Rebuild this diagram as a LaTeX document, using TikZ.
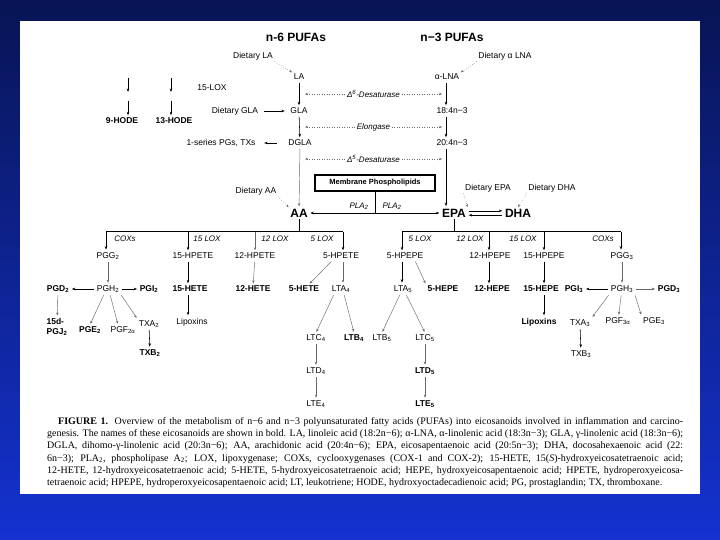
\documentclass[tikz,border=0pt]{standalone}
\usepackage{fontspec}
\setmainfont{Liberation Sans}
\newfontfamily\capfont{Liberation Serif}
\usepackage{tikz}
\usetikzlibrary{positioning, arrows.meta}
\definecolor{SlideTop}{RGB}{8,20,84}
\definecolor{SlideBot}{RGB}{20,50,208}
\definecolor{LineGray}{RGB}{105,105,105}

\begin{document}
\begin{tikzpicture}[x=1pt, y=-1pt,
    lbl/.style={inner sep=1.5pt, font=\fontsize{8.5}{10}\selectfont},
    bld/.style={inner sep=1.5pt, font=\fontsize{8.5}{10}\selectfont\bfseries},
    big/.style={inner sep=1.5pt, font=\fontsize{12}{14}\selectfont\bfseries},
    enz/.style={inner sep=1pt, font=\fontsize{8}{10}\selectfont\itshape},
    arr/.style={-{Stealth[length=3.5pt, width=2.6pt]}, draw=black, line width=0.55pt,
                shorten >=1pt, shorten <=1pt},
    farr/.style={-{Stealth[length=3pt, width=2.4pt]}, draw=LineGray, line width=0.45pt,
                 shorten >=1pt, shorten <=1pt},
    dotarr/.style={{Stealth[length=3pt, width=2.4pt]}-{Stealth[length=3pt, width=2.4pt]},
                   draw=LineGray, dotted, line width=0.5pt},
    diet/.style={-{Stealth[length=3pt, width=2.4pt]}, draw=LineGray, dotted, line width=0.5pt},
    br/.style={draw=black, line width=0.5pt}
  ]
  % slide
  \shade[top color=SlideTop, bottom color=SlideBot] (0,0) rectangle (720,540);
  \fill[white] (20,21) rectangle (700,494);
  \useasboundingbox (0,0) rectangle (720,540);

  % Titles
  \node[big] (ttl6) at (296,37) {n-6 PUFAs};
  \node[big] (ttl3) at (452,37) {n−3 PUFAs};

  % n-6 chain
  \node[lbl] (dla)  at (253,56)  {Dietary LA};
  \node[lbl] (la)   at (299,77)  {LA};
  \node[lbl] (dgl)  at (235,111) {Dietary GLA};
  \node[lbl] (gla)  at (299,111) {GLA};
  \node[lbl] (ser1) at (221,143) {1-series PGs, TXs};
  \node[lbl] (dgla) at (300,143) {DGLA};
  \node[lbl] (daa)  at (256,191) {Dietary AA};
  \node[big] (aa)   at (299,213) {AA};

  % n-3 chain
  \node[lbl] (daln) at (505,56)  {Dietary α LNA};
  \node[lbl] (aln)  at (447,77)  {α-LNA};
  \node[lbl] (c184) at (452,111) {18:4n−3};
  \node[lbl] (c204) at (452,143) {20:4n−3};
  \node[lbl] (depa) at (488,188) {Dietary EPA};
  \node[lbl] (ddha) at (552,188) {Dietary DHA};
  \node[big] (epa)  at (454,213) {EPA};
  \node[big] (dha)  at (518,213) {DHA};
  \coordinate (ncol) at (446,0);

  % Membrane
  \node[draw, line width=1.1pt, minimum width=120pt, minimum height=16pt, inner sep=1pt,
        font=\fontsize{7.5}{9}\selectfont\bfseries] (mem) at (375,183) {Membrane Phospholipids};
  \coordinate (pla) at (mem.south |- aa);
  \node[enz] (pl6) at (359,206) {PLA\textsubscript{2}};
  \node[enz] (pl3) at (392,206) {PLA\textsubscript{2}};

  % HODE
  \node[bld] (hode9)  at (122,121) {9-HODE};
  \node[bld] (hode13) at (174,121) {13-HODE};
  \node[lbl] (lox15)  at (212,88)  {15-LOX};
  \coordinate (h9t) at (128,77);  \coordinate (h9m) at (128,93);  \coordinate (h9n) at (128,100);
  \coordinate (h13t) at (171,77); \coordinate (h13m) at (171,93); \coordinate (h13n) at (171,100);

  % desaturase / elongase
  \coordinate (d6l) at (305,94);  \coordinate (d6r) at (442,94);
  \coordinate (ell) at (305,127); \coordinate (elr) at (442,127);
  \coordinate (d5l) at (305,159); \coordinate (d5r) at (442,159);

  \draw[diet] (dla.south east) -- (la.north west);
  \draw[arr] (la) -- (gla);
  \draw[arr] (gla) -- (dgla);
  \draw[arr, shorten <=4pt, shorten >=4pt] (dgl) -- (gla);
  \draw[arr, shorten <=10pt, shorten >=7pt] (dgla) -- (ser1);
  \draw[farr] (dgla) -- (aa);
  \draw[diet] (daa.south east) -- (aa.north west);
  \draw[diet] (daln.south west) -- (aln.north east);
  \draw[arr] (aln.south -| ncol) -- (c184.north -| ncol);
  \draw[arr] (c184.south -| ncol) -- (c204.north -| ncol);
  \draw[arr] (c204.south -| ncol) -- (epa.north -| ncol);
  \draw[diet] (depa.south west) -- (epa.north east);
  \draw[diet] (ddha.south west) -- (dha.north);
  \draw[line width=0.7pt] (mem.south) -- (pla);
  \draw[arr, {Stealth[length=3.5pt, width=2.6pt]}-{Stealth[length=3.5pt, width=2.6pt]}] (aa.east) -- (epa.west);
  \draw[arr] ([yshift=2.2pt]epa.east) -- ([yshift=2.2pt]dha.west);
  \draw[arr] ([yshift=-2.2pt]dha.west) -- ([yshift=-2.2pt]epa.east);

  \draw[dotarr] (d6l) -- (d6r) node[enz, fill=white, midway] {Δ\textsuperscript{6}-Desaturase};
  \draw[dotarr] (ell) -- (elr) node[enz, fill=white, midway] {Elongase};
  \draw[dotarr] (d5l) -- (d5r) node[enz, fill=white, midway] {Δ\textsuperscript{5}-Desaturase};

  \draw[arr] (h9t) -- (h9m);
  \draw[arr] (h9n) -- (h9n |- hode9.north);
  \draw[arr] (h13t) -- (h13m);
  \draw[arr] (h13n) -- (h13n |- hode13.north);

  % AA branch
  \coordinate (brl) at (106,231); \coordinate (b15) at (188,231);
  \coordinate (b12) at (255,231); \coordinate (brr) at (343,231);
  \node[enz] (coxl)  at (125,239) {COXs};
  \node[enz] (lox15l) at (207,239) {15 LOX};
  \node[enz] (lox12l) at (275,239) {12 LOX};
  \node[enz] (lox5l)  at (322,239) {5 LOX};

  \node[lbl] (pgg2)    at (108,256) {PGG\textsubscript{2}};
  \node[lbl] (hpete15) at (193,256) {15-HPETE};
  \node[lbl] (hpete12) at (255,256) {12-HPETE};
  \node[lbl] (hpete5)  at (341,256) {5-HPETE};

  \node[bld] (pgd2)   at (58,289)  {PGD\textsubscript{2}};
  \node[lbl] (pgh2)   at (108,289) {PGH\textsubscript{2}};
  \node[bld] (pgi2)   at (149,289) {PGI\textsubscript{2}};
  \node[bld] (hete15) at (190,289) {15-HETE};
  \node[bld] (hete12) at (253,289) {12-HETE};
  \node[bld] (hete5)  at (304,289) {5-HETE};
  \node[lbl] (lta4)   at (341,289) {LTA\textsubscript{4}};

  \node[bld, align=left] (j15) at (57,327) {15d-\\PGJ\textsubscript{2}};
  \node[bld] (pge2)   at (90,330)  {PGE\textsubscript{2}};
  \node[lbl] (pgf2a)  at (123,330) {PGF\textsubscript{2α}};
  \node[lbl] (txa2)   at (149,324) {TXA\textsubscript{2}};
  \node[bld] (txb2)   at (150,353) {TXB\textsubscript{2}};
  \node[lbl] (lipox4) at (192,322) {Lipoxins};
  \node[lbl] (ltc4)   at (316,338) {LTC\textsubscript{4}};
  \node[bld] (ltb4)   at (354,338) {LTB\textsubscript{4}};
  \node[lbl] (ltd4)   at (316,371) {LTD\textsubscript{4}};
  \node[lbl] (lte4)   at (316,404) {LTE\textsubscript{4}};

  \draw[br] (aa.south) -- (aa.south |- brl);
  \draw[br] (brl) -- (brr);
  \draw[arr] (brl) -- (brl |- pgg2.north);
  \draw[arr] (b15) -- (b15 |- hpete15.north);
  \draw[farr] (b12) -- (b12 |- hpete12.north);
  \draw[arr] (brr) -- (brr |- hpete5.north);

  \draw[farr] (pgg2) -- (pgh2);
  \draw[arr] (pgh2) -- (pgd2);
  \draw[arr] (pgh2) -- (pgi2);
  \draw[arr] (hpete15.south -| b15) -- (hete15.north -| b15);
  \draw[farr] (hpete12) -- (hete12);
  \draw[farr] ([xshift=-9pt]hpete5.south) -- ([xshift=5pt]hete5.north);
  \draw[farr] (hpete5.south -| brr) -- (lta4.north -| brr);

  \draw[farr] (pgd2) -- (j15);
  \draw[farr] ([xshift=-4pt]pgh2.south) -- (pge2.north);
  \draw[farr] ([xshift=2pt]pgh2.south) -- ([xshift=-5pt]pgf2a.north);
  \draw[farr] (pgh2.south east) -- (txa2.north west);
  \draw[arr] (txa2) -- (txb2);
  \draw[arr] (hete15.south -| b15) -- (lipox4.north -| b15);
  \draw[farr] ([xshift=-7pt]lta4.south) -- (ltc4.north);
  \draw[farr] ([xshift=3pt]lta4.south) -- (ltb4.north);
  \draw[farr] (ltc4) -- (ltd4);
  \draw[farr] (ltd4) -- (lte4);

  % EPA branch
  \coordinate (brl3) at (402,231); \coordinate (b12r) at (489,231);
  \coordinate (b15r) at (544,231); \coordinate (brr3) at (621,231);
  \node[enz] (lox5r)  at (420,239) {5 LOX};
  \node[enz] (lox12r) at (470,239) {12 LOX};
  \node[enz] (lox15r) at (523,239) {15 LOX};
  \node[enz] (coxr)   at (603,239) {COXs};

  \node[lbl] (hpepe5)  at (405,256) {5-HPEPE};
  \node[lbl] (hpepe12) at (490,256) {12-HPEPE};
  \node[lbl] (hpepe15) at (544,256) {15-HPEPE};
  \node[lbl] (pgg3)    at (622,256) {PGG\textsubscript{3}};

  \node[lbl] (lta5)   at (403,289) {LTA\textsubscript{5}};
  \node[bld] (hepe5)  at (443,289) {5-HEPE};
  \node[bld] (hepe12) at (492,289) {12-HEPE};
  \node[bld] (hepe15) at (541,289) {15-HEPE};
  \node[bld] (pgi3)   at (574,289) {PGI\textsubscript{3}};
  \node[lbl] (pgh3)   at (622,289) {PGH\textsubscript{3}};
  \node[bld] (pgd3)   at (669,289) {PGD\textsubscript{3}};

  \node[bld] (lipox5) at (539,322) {Lipoxins};
  \node[lbl] (txa3)   at (580,323) {TXA\textsubscript{3}};
  \node[lbl] (pgf3a)  at (618,321) {PGF\textsubscript{3α}};
  \node[lbl] (pge3)   at (654,321) {PGE\textsubscript{3}};
  \node[lbl] (txb3)   at (581,354) {TXB\textsubscript{3}};
  \node[lbl] (ltb5)   at (382,338) {LTB\textsubscript{5}};
  \node[lbl] (ltc5)   at (425,338) {LTC\textsubscript{5}};
  \node[bld] (ltd5)   at (425,371) {LTD\textsubscript{5}};
  \node[bld] (lte5)   at (425,404) {LTE\textsubscript{5}};

  \draw[br] (epa.south) -- (epa.south |- brl3);
  \draw[br] (brl3) -- (brr3);
  \draw[arr] (brl3) -- (brl3 |- hpepe5.north);
  \draw[arr] (b12r) -- (b12r |- hpepe12.north);
  \draw[arr] (b15r) -- (b15r |- hpepe15.north);
  \draw[arr] (brr3) -- (brr3 |- pgg3.north);

  \draw[arr] (hpepe5.south -| brl3) -- (lta5.north -| brl3);
  \draw[farr] ([xshift=10pt]hpepe5.south) -- (hepe5.north west);
  \draw[arr] (hpepe12.south -| b12r) -- (hepe12.north -| b12r);
  \draw[arr] (hpepe15.south -| b15r) -- (hepe15.north -| b15r);
  \draw[farr] (pgg3) -- (pgh3);
  \draw[arr] (pgh3) -- (pgi3);
  \draw[arr, draw=LineGray, line width=1pt] (pgh3) -- (pgd3);
  \draw[farr] (pgh3.south west) -- (txa3.north east);
  \draw[farr] (pgh3) -- (pgf3a);
  \draw[farr] (pgh3.south east) -- (pge3.north west);
  \draw[arr] (txa3) -- (txb3);
  \draw[arr] (hepe15.south -| b15r) -- (lipox5.north -| b15r);
  \draw[farr] ([xshift=-3pt]lta5.south) -- (ltb5.north);
  \draw[farr] ([xshift=3pt]lta5.south) -- (ltc5.north);
  \draw[farr] (ltc5) -- (ltd5);
  \draw[farr] (ltd5) -- (lte5);

  % Caption
  \node[anchor=north west, inner sep=0pt, text width=636pt, align=justify,
        font=\capfont\fontsize{10}{12.3}\selectfont] (cap) at (47,417)
  {\hspace*{11pt}\textbf{FIGURE 1.} Overview of the metabolism of n−6 and n−3 polyunsaturated fatty acids (PUFAs) into eicosanoids involved in inflammation and carcino-\linebreak
   genesis. The names of these eicosanoids are shown in bold. LA, linoleic acid (18:2n−6); α-LNA, α-linolenic acid (18:3n−3); GLA, γ-linolenic acid (18:3n−6);\linebreak
   DGLA, dihomo-γ-linolenic acid (20:3n−6); AA, arachidonic acid (20:4n−6); EPA, eicosapentaenoic acid (20:5n−3); DHA, docosahexaenoic acid (22:\linebreak
   6n−3); PLA\textsubscript{2}, phospholipase A\textsubscript{2}; LOX, lipoxygenase; COXs, cyclooxygenases (COX-1 and COX-2); 15-HETE, 15(\textit{S})-hydroxyeicosatetraenoic acid;\linebreak
   12-HETE, 12-hydroxyeicosatetraenoic acid; 5-HETE, 5-hydroxyeicosatetraenoic acid; HEPE, hydroxyeicosapentaenoic acid; HPETE, hydroperoxyeicosa-\linebreak
   tetraenoic acid; HPEPE, hydroperoxyeicosapentaenoic acid; LT, leukotriene; HODE, hydroxyoctadecadienoic acid; PG, prostaglandin; TX, thromboxane.};
\end{tikzpicture}
\end{document}
